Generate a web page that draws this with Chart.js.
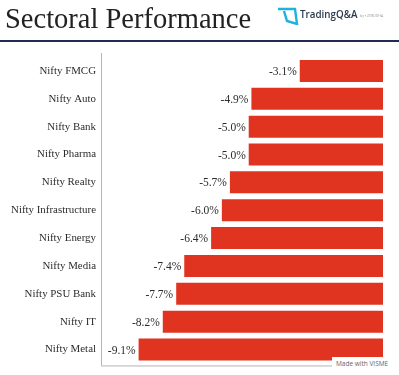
<!DOCTYPE html>
<html>
<head>
<meta charset="utf-8">
<script src="https://cdn.jsdelivr.net/npm/chart.js@4"></script>
<style>
  html, body { margin: 0; padding: 0; background: #fff; }
  #wrap { position: relative; width: 399px; height: 375px; overflow: hidden; }
  #chart { position: absolute; left: 0; top: 0; }
  #title { position: absolute; left: 5px; top: 3px; font: 28.5px "Liberation Serif", serif; color: #222; white-space: nowrap; }
  #rule { position: absolute; left: 0; top: 40px; width: 399px; height: 2px; background: #1f2d4d; }
  #logo { position: absolute; left: 277px; top: 7px; }
  #brand { position: absolute; left: 300px; top: 8px; font: 600 9.8px "Open Sans", sans-serif; color: #2b3a4a; white-space: nowrap; }
  #by { position: absolute; left: 360px; top: 13px; font: 3.5px "Open Sans", sans-serif; color: #999; white-space: nowrap; }
  #visme { position: absolute; left: 332px; top: 357px; width: 67px; height: 18px; background: #fff; }
  #visme span { position: absolute; left: 4px; top: 2px; font: 6.5px "Open Sans", sans-serif; color: #666; white-space: nowrap; }
</style>
</head>
<body>
<div id="wrap">
  <canvas id="chart" width="399" height="375"></canvas>
  <div id="title">Sectoral Performance</div>
  <svg id="logo" width="22" height="18" viewBox="0 0 22 18">
    <path d="M1 2 H18 L20 17 L10 14 L7 4" fill="none" stroke="#1fb2dc" stroke-width="2.4"/>
  </svg>
  <div id="brand">TradingQ&amp;A</div>
  <div id="by">by ▪ ZERODHA</div>
  <div id="rule"></div>
  <div id="visme"><span>Made with VISME</span></div>
</div>
<script>
const categories = ["Nifty FMCG", "Nifty Auto", "Nifty Bank", "Nifty Pharma", "Nifty Realty", "Nifty Infrastructure", "Nifty Energy", "Nifty Media", "Nifty PSU Bank", "Nifty IT", "Nifty Metal"];
const values = [-3.1, -4.9, -5.0, -5.0, -5.7, -6.0, -6.4, -7.4, -7.7, -8.2, -9.1];

const TEXT_COLOR = "#2b2b2b";
const BAR_COLOR = "#e03320";
const AXIS_COLOR = "#b5b5b5";

// value labels left of the bars, and the L shaped axis line that overshoots the plot
const barExtras = {
    id: "barExtras",
    afterDatasetsDraw(chart) {
        const ctx = chart.ctx;
        const area = chart.chartArea;
        ctx.save();
        ctx.strokeStyle = AXIS_COLOR;
        ctx.lineWidth = 1;
        ctx.beginPath();
        ctx.moveTo(area.left + 0.5, area.top - 4);
        ctx.lineTo(area.left + 0.5, area.bottom + 2.5);
        ctx.lineTo(area.right, area.bottom + 2.5);
        ctx.stroke();

        ctx.fillStyle = TEXT_COLOR;
        ctx.font = "11.5px 'Liberation Serif', serif";
        ctx.textAlign = "right";
        ctx.textBaseline = "middle";
        chart.getDatasetMeta(0).data.forEach((bar, i) => {
            ctx.fillText(values[i].toFixed(1) + "%", bar.x - 3, bar.y + 1);
        });
        ctx.restore();
    },
};

new Chart(document.getElementById("chart"), {
    type: "bar",
    plugins: [barExtras],
    data: {
        labels: categories,
        datasets: [{
            data: values,
            backgroundColor: BAR_COLOR,
            categoryPercentage: 1,
            barPercentage: 0.79,
        }],
    },
    options: {
        indexAxis: "y",
        responsive: false,
        animation: false,
        layout: { padding: { top: 57, bottom: 10, right: 16, left: 0 } },
        plugins: { legend: { display: false }, tooltip: { enabled: false } },
        scales: {
            x: { display: false, min: -10.5, max: 0 },
            y: {
                afterFit(scale) { scale.width = 101; },
                grid: { display: false, drawTicks: false },
                border: { display: false },
                ticks: {
                    color: TEXT_COLOR,
                    padding: 5,
                    autoSkip: false,
                    font: { family: "'Liberation Serif', serif", size: 10.9 },
                },
            },
        },
    },
});
</script>
</body>
</html>
